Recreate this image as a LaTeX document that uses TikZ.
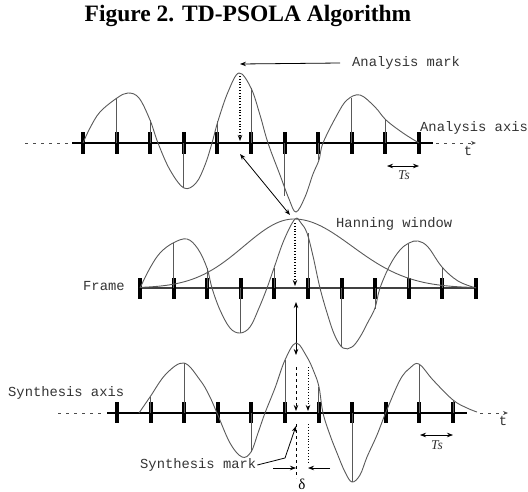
\documentclass[tikz,border=0pt]{standalone}
\usepackage{fontspec}
\setmainfont{Liberation Serif}
\newfontfamily\monofnt{Liberation Mono}
\usetikzlibrary{arrows.meta}
\begin{document}
\begin{tikzpicture}[x=1pt,y=-1pt,
  wave/.style={draw=black!65, line width=0.9pt},
  samp/.style={draw=black!65, line width=0.9pt},
  axisline/.style={draw=black, line width=1.3pt},
  axisdash/.style={draw=black!70, line width=1pt, dash pattern=on 3pt off 5pt},
  tickmark/.style={draw=black, line width=4pt},
  lbl/.style={font=\monofnt\fontsize{13.8}{14}\selectfont, text=black!80, inner sep=0pt},
  tslbl/.style={font=\itshape\fontsize{13.5}{14}\selectfont, text=black!80, inner sep=0pt},
  arr/.style={-{Stealth[length=6pt,width=4.5pt]}, line width=0.8pt},
  darr/.style={{Stealth[length=6pt,width=4.5pt]}-{Stealth[length=6pt,width=4.5pt]}, line width=0.8pt},
  winstyle/.style={draw=black!65, line width=0.9pt}]
\useasboundingbox (0,0) rectangle (528,491);

% title
\node[font=\bfseries\fontsize{23.5}{26}\selectfont, inner sep=0pt] (title) at (248,16) {Figure 2. TD-PSOLA Algorithm};

% ---------------- analysis (top) ----------------
\draw[axisdash] (25,143) -- (70,143);
\draw[axisline] (72,143) -- (433,143);
\coordinate (tax1) at (436,143);
\coordinate (tax2) at (476,143);
\draw[axisdash, -{Stealth[length=5pt,width=4pt]}] (tax1) -- (tax2);
\foreach \i in {0,...,10} \draw[tickmark] ({83+33.6*\i},132) -- ({83+33.6*\i},154);
\foreach \x/\y in {116.6/98, 150.2/120, 183.8/188, 217.4/121, 251/88, 284.6/196, 318.2/160, 351.8/98, 385.4/120}
  \draw[samp] (\x,143) -- (\x,\y);
\draw[wave] plot[smooth, tension=0.6] coordinates {(83,143) (90,128) (100,112) (117,98) (128,93) (139,98) (150,120) (158,143) (170,170) (184,188) (196,183) (205,165) (212,143) (218,121) (228,92) (239,73) (251,88) (260,115) (268,143) (280,175) (289,199) (296,212) (305,197) (313,174) (319,160) (323,143) (337,115) (347,100) (360,95) (375,107) (386,120) (403,133) (419,143)};

\node[lbl, anchor=west] (amlabel) at (352,63) {Analysis mark};
\coordinate (amtip) at (240,64);
\draw[arr] ([xshift=-12pt]amlabel.west) -- (amtip);
\node[lbl, anchor=west] (aalabel) at (420,128) {Analysis axis};
\node[lbl] (t1) at (468,151) {t};
\coordinate (pk1) at (240,76);
\coordinate (ax1) at (240,141);
\draw[arr, dotted, line width=1.1pt] (pk1) -- (ax1);
\coordinate (ts1a) at (387,166);
\coordinate (ts1b) at (419,166);
\draw[darr, line width=0.7pt] (ts1a) -- (ts1b);
\node[tslbl] (ts1) at (404,175) {Ts};

% double arrow analysis -> frame
\coordinate (da1) at (240,154);
\coordinate (da2) at (290,215);
\draw[darr] (da1) -- (da2);

% ---------------- frame (middle) ----------------
\draw[axisline, draw=black!75] (140,288) -- (476,288);
\foreach \i in {0,...,10} \draw[tickmark] ({140+33.6*\i},278) -- ({140+33.6*\i},299);
\foreach \x/\y in {173.6/243, 207.2/268, 240.8/333, 274.4/268, 308/233, 341.6/347, 375.2/309, 408.8/244, 442.4/267}
  \draw[samp] (\x,288) -- (\x,\y);
\draw[winstyle] plot[domain=140:294, samples=60, smooth] ({\x},{288-69*exp(-((\x-294)/(0.46*154))^2)});
\draw[winstyle] plot[domain=294:476, samples=60, smooth] ({\x},{288-69*exp(-((\x-294)/(0.45*182))^2)});
\draw[wave] plot[smooth, tension=0.6] coordinates {(140,288) (150,268) (160,253) (173,243) (187,239) (198,249) (207,268) (212,288) (220,310) (230,328) (240,333) (250,327) (259,308) (267,288) (274,268) (284,240) (295,219) (301,223) (307,233) (313,256) (320,288) (328,316) (335,336) (343,348) (352,347) (360,337) (368,322) (375,308) (380,288) (390,265) (400,250) (409,243) (418,241) (428,247) (442,267) (458,281) (476,288)};
\node[lbl, anchor=west] (hwlabel) at (336,224) {Hanning window};
\node[lbl, anchor=west] (frlabel) at (83,286) {Frame};
\coordinate (pk2) at (295,223);
\coordinate (ax2) at (295,286);
\draw[arr, dotted, line width=1.1pt] (pk2) -- (ax2);

% vertical double arrow frame -> synthesis
\coordinate (va1) at (296,302);
\coordinate (va2) at (296,355);
\draw[darr] (va1) -- (va2);

% ---------------- synthesis (bottom) ----------------
\draw[axisdash] (58,413) -- (103,413);
\draw[axisline] (107,413) -- (467,413);
\coordinate (bax1) at (480,413);
\coordinate (bax2) at (508,413);
\draw[axisdash, -{Stealth[length=5pt,width=4pt]}] (bax1) -- (bax2);
\foreach \i in {0,...,10} \draw[tickmark] ({117+33.6*\i},402) -- ({117+33.6*\i},423);
\foreach \x/\y in {150.6/397, 184.2/363, 251.4/452, 285/360, 318.6/387, 352.2/482, 419.4/364, 453/400}
  \draw[samp] (\x,413) -- (\x,\y);
\draw[wave] plot[smooth, tension=0.6] coordinates {(139,413) (150,397) (166,374) (184,363) (200,380) (209,395) (217,413) (230,443) (242,457) (251,452) (258,433) (265,413) (275,388) (285,360) (296,343) (307,357) (314,372) (319,387) (323,413) (330,435) (337,453) (345,472) (352,482) (360,475) (367,457) (377,435) (386,412) (400,380) (410,368) (419,364) (433,380) (453,400) (467,408) (477,412)};
\node[lbl, anchor=west] (salabel) at (8,393) {Synthesis axis};
\node[lbl] (t2) at (503,421) {t};
\coordinate (ts2a) at (420,435);
\coordinate (ts2b) at (453,435);
\draw[darr, line width=0.7pt] (ts2a) -- (ts2b);
\node[tslbl] (ts2) at (437,445) {Ts};

% synthesis marks
\coordinate (sm1) at (296,367);
\coordinate (sm2) at (296,411);
\coordinate (sm3) at (296,424);
\coordinate (sm4) at (296,478);
\draw[arr, dashed, line width=0.9pt] (sm1) -- (sm2);
\draw[dashed, line width=0.9pt] (sm3) -- (sm4);
\coordinate (sd1) at (308,367);
\coordinate (sd2) at (308,411);
\coordinate (sd3) at (308,424);
\coordinate (sd4) at (308,463);
\draw[arr, dotted, line width=0.9pt] (sd1) -- (sd2);
\draw[dotted, line width=0.9pt] (sd3) -- (sd4);

\node[lbl, anchor=west] (smlabel) at (140,465) {Synthesis mark};
\coordinate (smk) at (285,458);
\coordinate (smtip) at (296,426);
\draw[arr] ([xshift=1pt]smlabel.east) -- (smk) -- (smtip);

% delta
\coordinate (dla) at (273,468);
\coordinate (dlb) at (296,468);
\coordinate (dlc) at (330,468);
\coordinate (dld) at (308,468);
\draw[arr, line width=0.7pt] (dla) -- (dlb);
\draw[arr, line width=0.7pt] (dlc) -- (dld);
\node[font=\fontsize{15}{16}\selectfont, inner sep=0pt] (dl) at (302,484) {δ};
\end{tikzpicture}
\end{document}
